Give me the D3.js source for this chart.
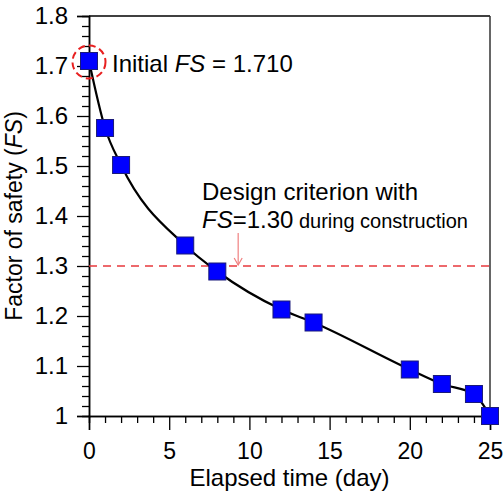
<!DOCTYPE html>
<html>
<head>
<meta charset="utf-8">
<script src="https://cdn.jsdelivr.net/npm/d3@7"></script>
<style>
  html, body { margin: 0; padding: 0; background: #fff; }
  svg { display: block; font-family: "Liberation Sans", Arial, sans-serif; }
</style>
</head>
<body>
<svg id="chart" width="504" height="493"></svg>
<script>
// Elapsed time (day) and computed factor of safety
const days = [0, 1, 2, 6, 8, 12, 14, 20, 22, 24, 25];
const fsValues = [1.710, 1.576, 1.502, 1.341, 1.289, 1.213, 1.187, 1.093, 1.064, 1.044, 1.000];
const criterionFS = 1.30;
const xTicks = [0, 5, 10, 15, 20, 25];
const yTicks = [1.0, 1.1, 1.2, 1.3, 1.4, 1.5, 1.6, 1.7, 1.8];
const yTickLabels = ["1", "1.1", "1.2", "1.3", "1.4", "1.5", "1.6", "1.7", "1.8"];

const svg = d3.select("#chart");
const m = { left: 89, right: 490, top: 16, bottom: 416 };
const FONT = 24;

const x = d3.scaleLinear().domain([0, 25]).range([m.left, m.right]);
const y = d3.scaleLinear().domain([1.0, 1.8]).range([m.bottom, m.top]);

// Frame
svg.append("line").attr("x1", m.left).attr("x2", m.right).attr("y1", m.top).attr("y2", m.top)
  .attr("stroke", "#000").attr("stroke-width", 1.5);
svg.append("line").attr("x1", m.right).attr("x2", m.right).attr("y1", m.top).attr("y2", m.bottom)
  .attr("stroke", "#333").attr("stroke-width", 1.5);

// Minor ticks
const xMinor = d3.range(0, 26, 1).filter(d => d % 5 !== 0);
const yMinor = d3.range(0, 41).map(i => 1.0 + i * 0.02).filter((d, i) => i % 5 !== 0);

const xAxis = svg.append("g").attr("transform", `translate(0,${m.bottom})`);
xAxis.call(d3.axisBottom(x).tickValues(xMinor).tickSize(7).tickFormat(""));
xAxis.append("g").call(d3.axisBottom(x).tickValues(xTicks).tickSize(14).tickPadding(13).tickFormat(d3.format("d")));
xAxis.selectAll("path.domain").attr("stroke", "#000").attr("stroke-width", 1.5);
xAxis.selectAll("line").attr("stroke", "#000").attr("stroke-width", 1.3);
xAxis.selectAll("text").attr("font-size", 23).attr("fill", "#000");

const yAxis = svg.append("g").attr("transform", `translate(${m.left},0)`);
yAxis.call(d3.axisLeft(y).tickValues(yMinor).tickSize(7).tickFormat(""));
yAxis.append("g").call(d3.axisLeft(y).tickValues(yTicks).tickSize(12).tickPadding(9)
  .tickFormat((d, i) => yTickLabels[i]));
yAxis.selectAll("path.domain").attr("stroke", "#000").attr("stroke-width", 1.5);
yAxis.selectAll("line").attr("stroke", "#000").attr("stroke-width", 1.3);
yAxis.selectAll("text").attr("font-size", FONT).attr("fill", "#000");

// Axis titles
svg.append("text").attr("x", (m.left + m.right) / 2).attr("y", 486)
  .attr("text-anchor", "middle").attr("font-size", FONT).text("Elapsed time (day)");
const yt = svg.append("text")
  .attr("transform", `translate(22,${(m.top + m.bottom) / 2}) rotate(-90)`)
  .attr("text-anchor", "middle").attr("font-size", 23);
yt.append("tspan").text("Factor of safety (");
yt.append("tspan").attr("font-style", "italic").text("FS");
yt.append("tspan").text(")");

// Design criterion line
svg.append("line").attr("x1", m.left).attr("x2", m.right)
  .attr("y1", y(criterionFS)).attr("y2", y(criterionFS))
  .attr("stroke", "#e8383d").attr("stroke-width", 1.5).attr("stroke-dasharray", "8,6");

// Arrow pointing to the criterion line
const ax = x(9.3);
svg.append("line").attr("x1", ax).attr("x2", ax).attr("y1", 233).attr("y2", y(criterionFS) - 1)
  .attr("stroke", "#f08080").attr("stroke-width", 1.2);
svg.append("path")
  .attr("d", `M${ax - 4},${y(criterionFS) - 8} L${ax},${y(criterionFS) - 1} L${ax + 4},${y(criterionFS) - 8}`)
  .attr("fill", "none").attr("stroke", "#f08080").attr("stroke-width", 1.2);

// FS curve
const pts = days.map((d, i) => [x(d), y(fsValues[i])]);
svg.append("path")
  .attr("d", d3.line().curve(d3.curveMonotoneX)(pts))
  .attr("fill", "none").attr("stroke", "#000").attr("stroke-width", 2.2);

// Markers
const sz = 17;
svg.append("g").selectAll("rect").data(days).join("rect")
  .attr("x", d => x(d) - sz / 2)
  .attr("y", (d, i) => y(fsValues[i]) - sz / 2)
  .attr("width", sz).attr("height", sz)
  .attr("fill", "#0000ff").attr("stroke", "#1a1a7a").attr("stroke-width", 1);

// Dashed circle around the initial value
svg.append("circle").attr("cx", x(days[0])).attr("cy", y(fsValues[0]) + 1).attr("r", 16.5)
  .attr("fill", "none").attr("stroke", "#e82020").attr("stroke-width", 2).attr("stroke-dasharray", "7,4");

// Annotations
const t1 = svg.append("text").attr("x", 112).attr("y", 72).attr("font-size", FONT);
t1.append("tspan").text("Initial ");
t1.append("tspan").attr("font-style", "italic").text("FS");
t1.append("tspan").text(" = " + fsValues[0].toFixed(3));

svg.append("text").attr("x", 202).attr("y", 200).attr("font-size", FONT).text("Design criterion with");
const t2 = svg.append("text").attr("x", 202).attr("y", 228).attr("font-size", FONT);
t2.append("tspan").attr("font-style", "italic").text("FS");
t2.append("tspan").text("=" + criterionFS.toFixed(2));
t2.append("tspan").attr("font-size", 20).text(" during construction");
</script>
</body>
</html>
